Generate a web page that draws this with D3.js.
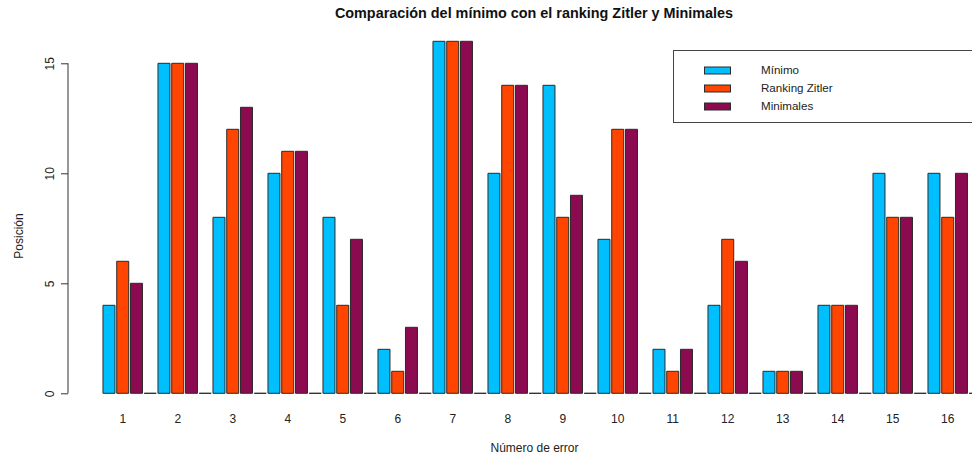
<!DOCTYPE html>
<html>
<head>
<meta charset="utf-8">
<script src="https://cdn.jsdelivr.net/npm/d3@7"></script>
<style>
  html, body { margin: 0; padding: 0; background: #fff; }
  svg { display: block; font-family: "Liberation Sans", Arial, sans-serif; }
</style>
</head>
<body>
<svg id="chart" width="972" height="457"></svg>
<script>
// Error numbers (x categories)
const errores = ["1","2","3","4","5","6","7","8","9","10","11","12","13","14","15","16"];
// Series names and values
const seriesNames = ["Mínimo", "Ranking Zitler", "Minimales"];
const minimo        = [4, 15, 8, 10, 8, 2, 16, 10, 14, 7, 2, 4, 1, 4, 10, 10];
const rankingZitler = [6, 15, 12, 11, 4, 1, 16, 14, 8, 12, 1, 7, 1, 4, 8, 8];
const minimales     = [5, 15, 13, 11, 7, 3, 16, 14, 9, 12, 2, 6, 1, 4, 8, 10];
// Empty separator row drawn after each group
const separador     = errores.map(() => 0);
const yTicks = [0, 5, 10, 15];

const colors = ["#00BFFF", "#FF4500", "#8B0A50", "#ffffff"];
const rows = [minimo, rankingZitler, minimales, separador];

const svg = d3.select("#chart");

const pInner = 0.127;
const x0 = d3.scaleBand().domain(errores).range([102.1, 102.1 + 16 * 55]).padding(0);
const x1 = d3.scaleBand().domain(d3.range(4)).range([0, x0.bandwidth()])
  .paddingInner(pInner).paddingOuter(pInner / 2);
const y = d3.scaleLinear().domain([0, 16]).range([393.3, 41.3]);

// Bars (drawn as paths so zero-height bars still show their outline)
const bars = [];
errores.forEach((e, i) => {
  rows.forEach((r, s) => bars.push({ e, s, v: r[i] }));
});
svg.append("g").selectAll("path").data(bars).join("path")
  .attr("d", d => {
    const p = d3.path();
    const bx = x0(d.e) + x1(d.s), bw = x1.bandwidth();
    const y0 = y(0), yv = y(d.v);
    p.moveTo(bx, y0); p.lineTo(bx, yv); p.lineTo(bx + bw, yv); p.lineTo(bx + bw, y0); p.closePath();
    return p.toString();
  })
  .attr("fill", d => colors[d.s])
  .attr("stroke", "#2b2b2b")
  .attr("stroke-width", 1);

// Y axis
const yAxisG = svg.append("g").attr("transform", "translate(68,0)")
  .call(d3.axisLeft(y).tickValues(yTicks).tickSize(7).tickSizeOuter(0).tickPadding(10));
yAxisG.select(".domain").attr("d", `M0,${y(0)}V${y(15)}`).attr("stroke", "#333");
yAxisG.selectAll(".tick line").attr("stroke", "#333");
yAxisG.selectAll(".tick text")
  .attr("font-size", 12).attr("fill", "#222")
  .attr("text-anchor", "middle")
  .attr("x", 0).attr("dy", 0)
  .attr("transform", "translate(-17,0) rotate(-90)")
  .attr("dominant-baseline", "middle");

// X category labels, centred on the three coloured bars of each group
const xAxisG = svg.append("g").attr("transform", `translate(0,${y(0)})`)
  .call(d3.axisBottom(x0).tickSize(0).tickPadding(0));
xAxisG.select(".domain").remove();
xAxisG.selectAll(".tick")
  .attr("transform", d => `translate(${x0(d) + (x1(0) + x1(2) + x1.bandwidth()) / 2},0)`);
xAxisG.selectAll(".tick text")
  .attr("y", 30).attr("dy", 0)
  .attr("font-size", 12).attr("fill", "#222");

// Title and axis titles
svg.append("text").attr("x", 534).attr("y", 18).attr("text-anchor", "middle")
  .attr("font-size", 14.4).attr("font-weight", "bold").attr("fill", "#111")
  .text("Comparación del mínimo con el ranking Zitler y Minimales");
svg.append("text").attr("x", 534.5).attr("y", 452).attr("text-anchor", "middle")
  .attr("font-size", 12).attr("fill", "#222").text("Número de error");
svg.append("text").attr("transform", "translate(23,236) rotate(-90)")
  .attr("text-anchor", "middle").attr("font-size", 12).attr("fill", "#222")
  .text("Posición");

// Legend
const lg = svg.append("g");
lg.append("rect").attr("x", 673.5).attr("y", 50.5).attr("width", 310).attr("height", 72)
  .attr("fill", "#fff").attr("stroke", "#444");
seriesNames.forEach((n, i) => {
  const cy = 70.5 + i * 18;
  lg.append("rect").attr("x", 704.5).attr("y", cy - 3.5).attr("width", 26).attr("height", 7)
    .attr("fill", colors[i]).attr("stroke", "#2b2b2b");
  lg.append("text").attr("x", 761).attr("y", cy).attr("dominant-baseline", "middle")
    .attr("font-size", 11.6).attr("fill", "#222").text(n);
});
</script>
</body>
</html>
